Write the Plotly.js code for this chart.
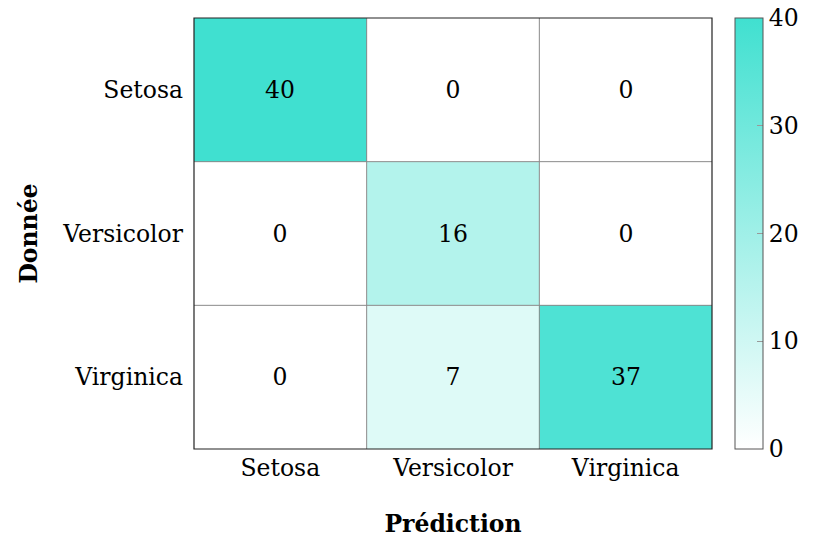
<!DOCTYPE html>
<html><head><meta charset="utf-8">
<script src="https://cdn.plot.ly/plotly-3.0.1.min.js"></script>
<style>body{margin:0;background:#fff}#chart{width:813px;height:539px}</style>
</head><body><div id="chart"></div>
<script>
const predLabels = ["Setosa", "Versicolor", "Virginica"];
const trueLabels = ["Setosa", "Versicolor", "Virginica"];
const matrix = [
  [40, 0, 0],
  [0, 16, 0],
  [0, 7, 37]
];
const cbTicks = [0, 10, 20, 30, 40];
const FONT = "DejaVu Serif";
const FS = 23.5;
const idx = predLabels.map((_, i) => i);
const shapes = [];
[0.5, 1.5].forEach(v => {
  shapes.push({type:'line', xref:'x', yref:'paper', x0:v, x1:v, y0:0, y1:1, line:{color:'#8a8a8a', width:1}, layer:'above'});
  shapes.push({type:'line', xref:'paper', yref:'y', x0:0, x1:1, y0:v, y1:v, line:{color:'#8a8a8a', width:1}, layer:'above'});
});
shapes.push({type:'rect', xref:'paper', yref:'paper', x0:0, x1:1, y0:0, y1:1, line:{color:'#222', width:1.2}, layer:'above'});
// left-side tick marks of the colour bar (the library draws the right-side ones)
const cbX0 = 1.0444;
cbTicks.slice(1, -1).forEach(t => {
  shapes.push({type:'line', xref:'paper', yref:'paper', x0:cbX0, x1:cbX0 + 6/518, y0:t/40, y1:t/40, line:{color:'#999', width:1}, layer:'above'});
});
const trace = {
  type:'heatmap', x: idx, y: trueLabels.map((_, i) => i), z: matrix,
  zmin:0, zmax:40,
  colorscale:[[0,'#ffffff'],[1,'#40E0D0']],
  texttemplate:'%{z}', textfont:{family:FONT, size:FS, color:'#000'},
  hoverinfo:'skip',
  colorbar:{x:cbX0, xanchor:'left', y:0, yanchor:'bottom', len:1, lenmode:'fraction',
    thickness:28, thicknessmode:'pixels', outlinecolor:'#555', outlinewidth:1,
    tickvals:cbTicks, ticks:'inside', ticklen:6, tickcolor:'#999', ticklabelstandoff:2,
    tickfont:{family:FONT, size:FS, color:'#000'}, xpad:0, ypad:0}
};
const layout = {
  width:813, height:539, margin:{l:194, r:101, t:18, b:90, autoexpand:false},
  paper_bgcolor:'#fff', plot_bgcolor:'#fff',
  font:{family:FONT, size:FS, color:'#000'},
  xaxis:{tickvals:idx, ticktext:predLabels, range:[-0.5,2.5], showgrid:false, zeroline:false, ticks:'', ticklabelstandoff:2,
    title:{text:'<b>Prédiction</b>', font:{family:FONT, size:FS}, standoff:35}},
  yaxis:{tickvals:idx, ticktext:trueLabels, range:[2.5,-0.5], showgrid:false, zeroline:false, ticks:'', ticklabelstandoff:10,
    title:{text:'<b>Donnée</b>', font:{family:FONT, size:FS}, standoff:18}},
  shapes: shapes
};
Plotly.newPlot('chart', [trace], layout, {displayModeBar:false, staticPlot:true});
</script></body></html>
